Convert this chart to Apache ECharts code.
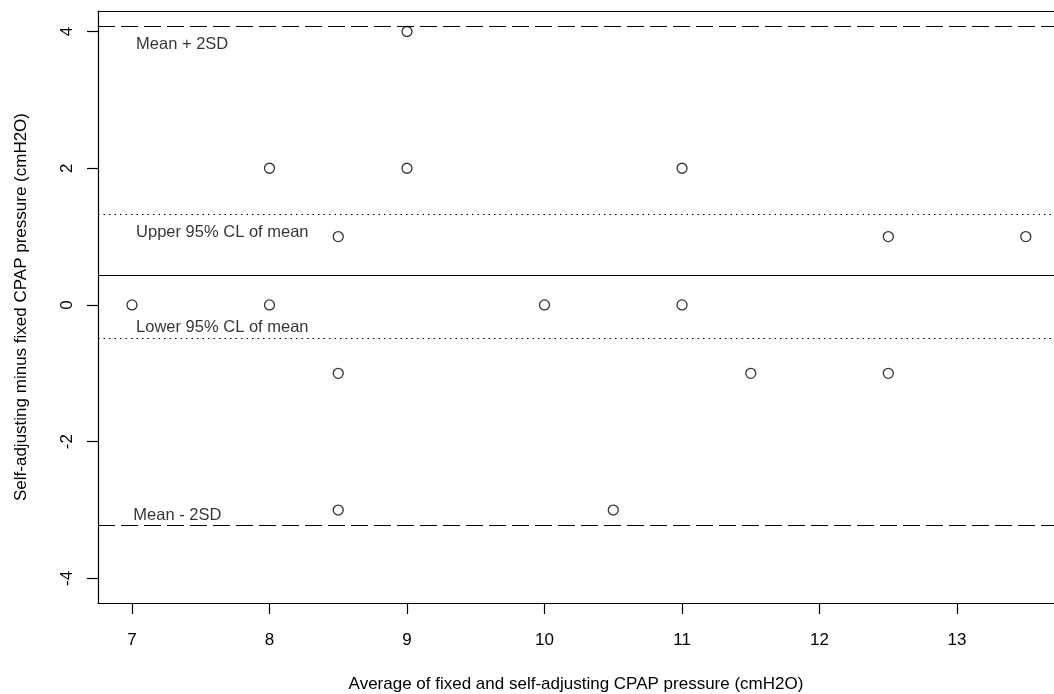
<!DOCTYPE html>
<html><head><meta charset="utf-8">
<script src="https://cdn.jsdelivr.net/npm/echarts@6/dist/echarts.min.js"></script>
<style>html,body{margin:0;padding:0;background:#fff}#c{width:1054px;height:694px}</style>
</head><body><div id="c"></div>
<script>
const avgX = [7, 8, 8, 8.5, 8.5, 8.5, 9, 9, 10, 10.5, 11, 11, 11.5, 12.5, 12.5, 13.5];
const diffY = [0, 2, 0, 1, -1, -3, 4, 2, 0, -3, 2, 0, -1, 1, -1, 1];
const meanDiff = 0.43;
const upper2SD = 4.07;
const lower2SD = -3.22;
const upperCL = 1.33;
const lowerCL = -0.48;
const xTicks = [7, 8, 9, 10, 11, 12, 13];
const yTicks = [-4, -2, 0, 2, 4];
const noteText = ['Mean + 2SD', 'Upper 95% CL of mean', 'Lower 95% CL of mean', 'Mean - 2SD'];
const noteX = [7.03, 7.03, 7.03, 7.01];
const noteY = [3.81, 1.06, -0.33, -3.08];

const FONT = '"Liberation Sans", Arial, sans-serif';
const chart = echarts.init(document.getElementById('c'), null, {renderer: 'canvas'});
const pts = avgX.map((x, i) => [x, diffY[i]]);
const notes = noteText.map((t, i) => [noteX[i], noteY[i], t]);
const hline = (y, type) => ({
  type: 'line', data: [], silent: true,
  markLine: {symbol: 'none', silent: true, label: {show: false},
    lineStyle: {color: '#000', width: 1.2, type: type},
    data: [{yAxis: y}]}
});
chart.setOption({
  animation: false,
  backgroundColor: '#fff',
  grid: {left: 98, top: 11, bottom: 91, right: 0, containLabel: false, outerBoundsMode: 'none'},
  xAxis: [{
    type: 'value', min: 6.753, max: 13.705, interval: 1,
    name: 'Average of fixed and self-adjusting CPAP pressure (cmH2O)',
    nameLocation: 'middle', nameGap: 73,
    nameTextStyle: {fontFamily: FONT, fontSize: 17, color: '#000'},
    axisLine: {show: true, onZero: false, lineStyle: {color: '#000', width: 1.2}},
    axisTick: {show: true, length: 11, lineStyle: {color: '#000', width: 1.2},
      customValues: xTicks},
    axisLabel: {fontFamily: FONT, fontSize: 17, color: '#000', margin: 29,
      customValues: xTicks, showMinLabel: true, showMaxLabel: true},
    splitLine: {show: false}
  }, {
    type: 'value', position: 'top', min: 6.753, max: 13.705,
    axisLine: {show: true, onZero: false, lineStyle: {color: '#000', width: 1.2}},
    axisTick: {show: false}, axisLabel: {show: false}, splitLine: {show: false}
  }],
  yAxis: {
    type: 'value', min: -4.36, max: 4.30,
    name: 'Self-adjusting minus fixed CPAP pressure (cmH2O)',
    nameLocation: 'middle', nameGap: 68, nameRotate: 90,
    nameTextStyle: {fontFamily: FONT, fontSize: 17, color: '#000'},
    axisLine: {show: true, onZero: false, lineStyle: {color: '#000', width: 1.2}},
    axisTick: {show: true, length: 11, lineStyle: {color: '#000', width: 1.2},
      customValues: yTicks},
    axisLabel: {fontFamily: FONT, fontSize: 17, color: '#000', rotate: 90, margin: 22,
      customValues: yTicks},
    splitLine: {show: false}
  },
  series: [
    hline(upper2SD, [17, 6]),
    hline(lower2SD, [17, 6]),
    hline(upperCL, [1.5, 4]),
    hline(lowerCL, [1.5, 4]),
    hline(meanDiff, 'solid'),
    {
      type: 'scatter', data: pts, symbol: 'circle', symbolSize: 10,
      itemStyle: {color: '#fff', borderColor: '#000', borderWidth: 1.3},
      silent: true
    },
    {
      type: 'scatter', data: notes, symbolSize: 0, silent: true,
      label: {show: true, position: 'right', distance: 0,
        formatter: p => p.data[2],
        fontFamily: FONT, fontSize: 16.5, color: '#000'}
    }
  ]
});
</script></body></html>
